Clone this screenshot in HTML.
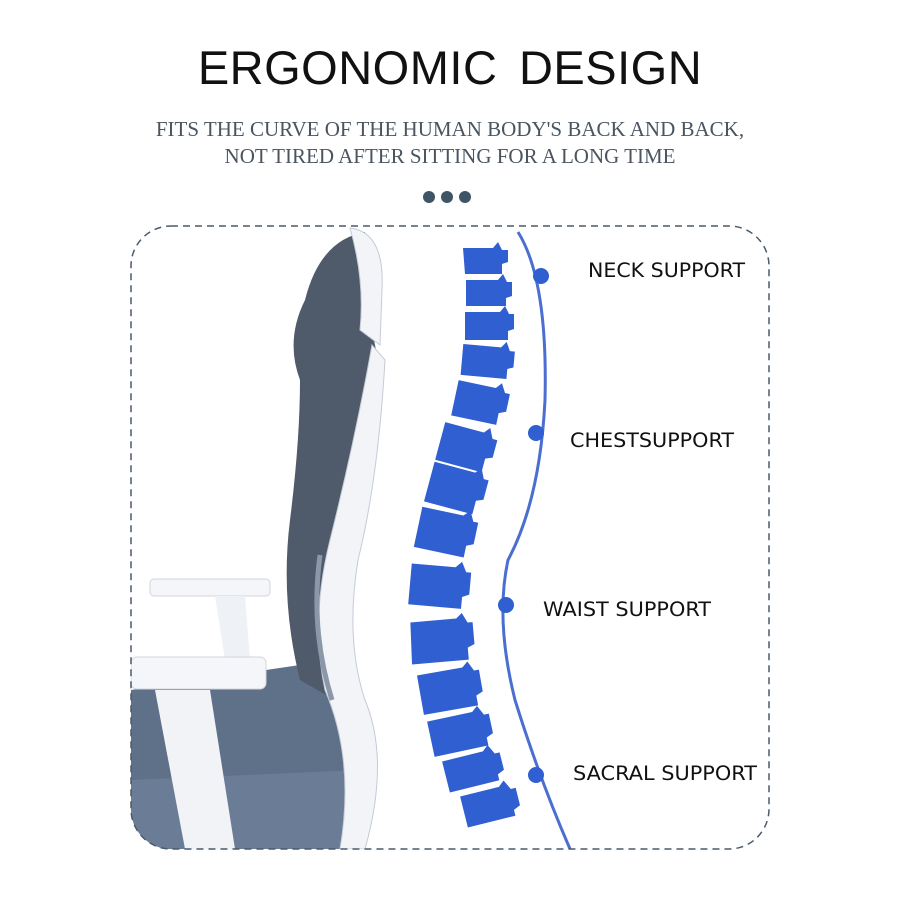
<!DOCTYPE html>
<html><head><style>
body{margin:0;background:#fff;width:900px;height:900px;overflow:hidden;position:relative;font-family:"Liberation Sans",sans-serif}
.t{position:absolute;left:0;width:900px;text-align:center}
</style></head><body>
<div class="t" style="top:40px;font-size:47px;color:#111;letter-spacing:0.5px;word-spacing:8px">ERGONOMIC DESIGN</div>
<div class="t" style="top:116px;font-family:'Liberation Serif',serif;font-size:21px;color:#4a5560;line-height:27px">FITS THE CURVE OF THE HUMAN BODY'S BACK AND BACK,<br>NOT TIRED AFTER SITTING FOR A LONG TIME</div>
<svg width="900" height="900" style="position:absolute;left:0;top:0">
<circle cx="429" cy="197" r="6" fill="#3f5566"/><circle cx="447" cy="197" r="6" fill="#3f5566"/><circle cx="465" cy="197" r="6" fill="#3f5566"/>
<defs><clipPath id="c"><rect x="131" y="226" width="638" height="623" rx="40"/></clipPath></defs>
<g clip-path="url(#c)">
<path d="M131 690 L300 665 L350 690 L360 849 L131 849Z" fill="#5f7089"/>
<path d="M131 780 L360 770 L360 849 L131 849Z" fill="#6b7d96"/>
<path d="M305 300 Q320 240 365 232 L372 330 L378 360 Q350 480 330 560 Q315 640 335 700 L300 680 Q280 600 290 520 Q300 440 300 380 Q285 340 305 300Z" fill="#4f5a6a"/>
<path d="M350 228 Q385 232 382 290 L380 345 L360 330 Q365 280 350 228Z" fill="#f2f4f8" stroke="#c5cbd6"/>
<path d="M372 345 L385 360 Q378 480 358 560 Q345 640 365 700 Q390 760 365 849 L340 849 Q355 760 325 690 Q310 620 330 540 Q355 440 372 345Z" fill="#f2f4f8" stroke="#c5cbd6"/>
<path d="M320 555 Q310 630 332 700" stroke="#8d97aa" stroke-width="5" fill="none"/>
<rect x="150" y="579" width="120" height="17" rx="4" fill="#f4f6f9" stroke="#d0d5dd"/>
<path d="M215 596 L245 596 L250 660 L225 660Z" fill="#eef1f5"/>
<rect x="131" y="657" width="135" height="32" rx="6" fill="#f4f6f9" stroke="#d0d5dd"/>
<path d="M155 690 L210 690 L235 849 L185 849Z" fill="#f1f3f7"/>
<path d="M518 232 Q548 280 545 400 Q540 500 508 560 Q495 620 515 700 Q540 780 570 849" stroke="#4a6fd0" stroke-width="3" fill="none"/>
<g fill="#2f5fd0">
<path d="M463 248 h30 l5 -6 l4 8 h6 v12 l-6 2 v10 h-37z"/>
<path d="M466 280 h32 l5 -6 l4 8 h5 v14 l-6 2 v8 h-40z"/>
<path d="M465 312 h35 l5 -6 l4 8 h5 v15 l-6 2 v9 h-43z"/>
<path d="M462 346 h38 l5 -6 l4 9 h5 v16 l-6 2 v10 h-46z" transform="rotate(5 485 360)"/>
<path d="M455 385 h38 l5 -6 l5 9 h5 v18 l-7 3 v12 h-46z" transform="rotate(12 480 400)"/>
<path d="M440 428 h40 l5 -6 l5 10 h5 v18 l-7 3 v14 h-48z" transform="rotate(15 465 445)"/>
<path d="M428 468 h42 l5 -6 l5 10 h5 v20 l-7 3 v14 h-50z" transform="rotate(15 455 490)"/>
<path d="M418 512 h42 l6 -6 l5 10 h5 v22 l-7 3 v12 h-51z" transform="rotate(12 445 530)"/>
<path d="M410 566 h44 l6 -6 l5 10 h5 v22 l-7 3 v12 h-53z" transform="rotate(5 440 585)"/>
<path d="M412 620 h46 l6 -5 l5 10 h5 v22 l-7 3 v12 h-57z" transform="rotate(-5 440 640)"/>
<path d="M420 670 h46 l6 -5 l5 10 h5 v22 l-7 3 v10 h-55z" transform="rotate(-10 450 690)"/>
<path d="M430 715 h46 l6 -5 l5 10 h5 v20 l-7 3 v8 h-55z" transform="rotate(-12 460 732)"/>
<path d="M445 755 h42 l6 -5 l5 10 h5 v18 l-7 3 v6 h-51z" transform="rotate(-14 470 770)"/>
<path d="M463 790 h40 l6 -5 l5 10 h5 v18 l-7 3 v6 h-49z" transform="rotate(-14 488 805)"/>
</g>
<g fill="#2f5fd0"><circle cx="541" cy="276" r="8"/><circle cx="536" cy="433" r="8"/><circle cx="506" cy="605" r="8"/><circle cx="536" cy="775" r="8"/></g>
</g>
<rect x="131" y="226" width="638" height="623" rx="40" fill="none" stroke="#4a5a6a" stroke-width="1.5" stroke-dasharray="7 5"/>
<g font-family="DejaVu Sans,sans-serif" font-size="19.5" fill="#111">
<text x="588" y="277" textLength="157" lengthAdjust="spacingAndGlyphs">NECK SUPPORT</text>
<text x="570" y="447" textLength="164" lengthAdjust="spacingAndGlyphs">CHESTSUPPORT</text>
<text x="543" y="616" textLength="168" lengthAdjust="spacingAndGlyphs">WAIST SUPPORT</text>
<text x="573" y="780" textLength="184" lengthAdjust="spacingAndGlyphs">SACRAL SUPPORT</text>
</g>
</svg>
</body></html>
